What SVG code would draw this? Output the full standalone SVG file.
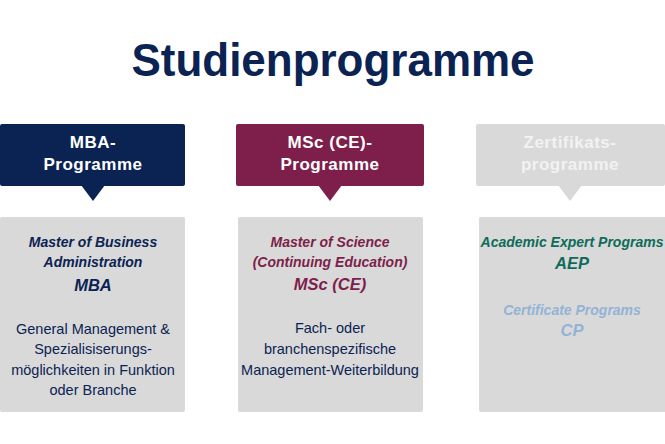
<svg xmlns="http://www.w3.org/2000/svg" width="665" height="444" viewBox="0 0 665 444">
<style>
.t{font-family:"Liberation Sans",Arial,sans-serif;text-anchor:middle}
.title{font-size:46px;font-weight:bold;fill:#0b2353}
.hd{font-size:17px;font-weight:bold;letter-spacing:0.5px}
.bi{font-size:14px;font-weight:bold;font-style:italic}
.big{font-size:16.5px;font-weight:bold;font-style:italic}
.body{font-size:14.5px;fill:#0b2353}
.card{fill:#d9d9d9}
</style>
<rect width="665" height="444" fill="#ffffff"/>
<text class="t title" x="333" y="75.5" textLength="403" lengthAdjust="spacingAndGlyphs">Studienprogramme</text>

<g id="mba-header">
<rect x="0" y="124" width="185" height="62" rx="2" fill="#0b2353"/>
<polygon points="81,185 105,185 93,201" fill="#0b2353"/>
<text class="t hd" x="93" y="148" fill="#ffffff">MBA-</text>
<text class="t hd" x="93" y="170" fill="#ffffff">Programme</text>
</g>
<g id="msc-header">
<rect x="236" y="124" width="188" height="62" rx="2" fill="#7e1f4b"/>
<polygon points="318,185 342,185 330,201" fill="#7e1f4b"/>
<text class="t hd" x="330" y="148" fill="#ffffff">MSc (CE)-</text>
<text class="t hd" x="330" y="170" fill="#ffffff">Programme</text>
</g>
<g id="zert-header">
<rect x="476" y="124" width="189" height="62" rx="2" fill="#d9d9d9"/>
<polygon points="558,185 582,185 570,201" fill="#d9d9d9"/>
<text class="t hd" x="570" y="148" fill="#f2f2f2">Zertifikats-</text>
<text class="t hd" x="570" y="170" fill="#f2f2f2">programme</text>
</g>

<g id="mba-card">
<rect class="card" x="0" y="217" width="185" height="195" rx="2"/>
<text class="t bi" x="93" y="247" fill="#0b2353">Master of Business</text>
<text class="t bi" x="93" y="267" fill="#0b2353">Administration</text>
<text class="t big" x="93" y="291" fill="#0b2353">MBA</text>
<text class="t body" x="93" y="334">General Management &amp;</text>
<text class="t body" x="93" y="354">Spezialisiserungs-</text>
<text class="t body" x="93" y="375">möglichkeiten in Funktion</text>
<text class="t body" x="93" y="395">oder Branche</text>
</g>
<g id="msc-card">
<rect class="card" x="238" y="217" width="185" height="195" rx="2"/>
<text class="t bi" x="330" y="247" fill="#7e1f4b">Master of Science</text>
<text class="t bi" x="330" y="267" fill="#7e1f4b">(Continuing Education)</text>
<text class="t big" x="330" y="290" fill="#7e1f4b">MSc (CE)</text>
<text class="t body" x="330" y="333">Fach- oder</text>
<text class="t body" x="330" y="354">branchenspezifische</text>
<text class="t body" x="330" y="375">Management-Weiterbildung</text>
</g>
<g id="zert-card">
<rect class="card" x="479" y="217" width="190" height="195" rx="2"/>
<text class="t bi" x="572" y="247" fill="#0e6b5a">Academic Expert Programs</text>
<text class="t big" x="572" y="269" fill="#0e6b5a">AEP</text>
<text class="t bi" x="572" y="315" fill="#93b3d6">Certificate Programs</text>
<text class="t big" x="572" y="336" fill="#93b3d6">CP</text>
</g>
<g id="connectors"></g>
</svg>
